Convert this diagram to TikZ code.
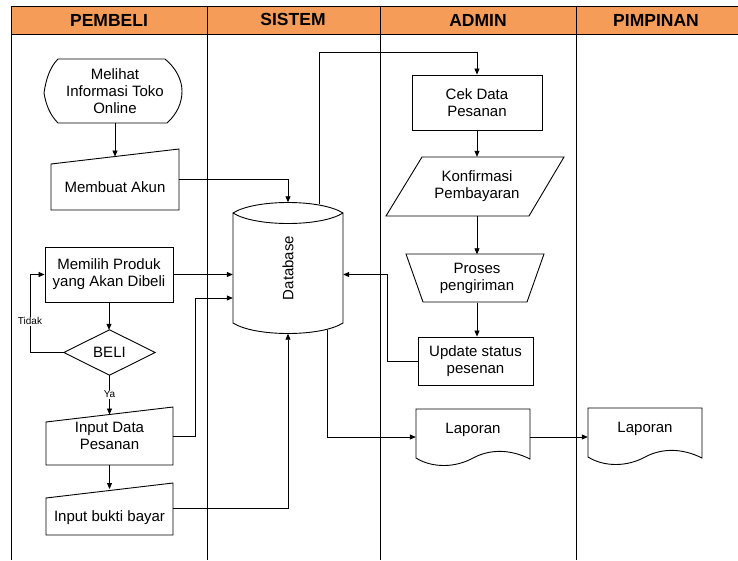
\documentclass[tikz,border=0pt]{standalone}
\usepackage{fontspec}
\setmainfont{Liberation Sans}
\usetikzlibrary{arrows.meta,calc}
\definecolor{hdr}{RGB}{245,157,88}
\begin{document}
\begin{tikzpicture}[x=1pt,y=-1pt,
  line/.style={draw=black,line width=0.8pt},
  arr/.style={line,-{Triangle[length=6pt,width=5pt]}},
  shp/.style={draw=black,line width=0.9pt},
  lane/.style={draw=black,line width=0.95pt},
  txt/.style={font=\fontsize{15}{17}\selectfont,align=center,inner sep=0pt},
  box/.style={txt,draw=black,line width=0.9pt},
  lbl/.style={font=\fontsize{10}{12}\selectfont,inner sep=1pt,fill=white},
  hd/.style={font=\fontsize{17.5}{20}\selectfont\bfseries,inner sep=0pt}]
\useasboundingbox (0,0) rectangle (738,560);
\fill[white] (0,0) rectangle (738,560);
% header and lanes
\fill[hdr] (11,6) rectangle (738,34);
\draw[lane] (11,6) -- (738,6);
\draw[lane] (11,34) -- (738,34);
\draw[lane] (11,6) -- (11,560);
\draw[lane] (207,6) -- (207,560);
\draw[lane] (380,6) -- (380,560);
\draw[lane] (576,6) -- (576,560);
\node[hd] (hpem) at (109,20) {PEMBELI};
\node[hd] (hsis) at (293,19) {SISTEM};
\node[hd] (hadm) at (478,20) {ADMIN};
\node[hd] (hpim) at (656,20) {PIMPINAN};

% ---- PEMBELI lane
\draw[shp] (58,59) -- (165,59) .. controls (176,68) and (182,80) .. (182,91)
  .. controls (182,103) and (177,114) .. (167,123) -- (58,123)
  .. controls (50,115) and (46,105) .. (44,93)
  .. controls (46,79) and (50,67) .. (58,59) -- cycle;
\node[txt,minimum width=124,minimum height=64] (melihat) at (115,91) {Melihat\\Informasi Toko\\Online};

\draw[shp] (51,164) -- (179,149) -- (179,210) -- (51,210) -- cycle;
\node[txt,minimum width=128,minimum height=46] (membuat) at (115,187) {Membuat Akun};
\coordinate (mbtop) at (115,156.5);

\node[box,minimum width=128,minimum height=55] (memilih) at (109,274.5) {Memilih Produk\\yang Akan Dibeli};

\node[txt,minimum width=91,minimum height=45] (beli) at (109.5,352.5) {BELI};
\draw[shp] (beli.north) -- (beli.east) -- (beli.south) -- (beli.west) -- cycle;
\coordinate (tk) at (30,352.5);

\draw[shp] (46,422) -- (173,407) -- (173,465) -- (46,465) -- cycle;
\node[txt,minimum width=127,minimum height=58] (inputdata) at (109.5,436) {Input Data\\Pesanan};
\coordinate (idtop) at (109.5,414.5);

\draw[shp] (46,498) -- (173,483) -- (173,535) -- (46,535) -- cycle;
\node[txt,minimum width=127,minimum height=34] (inputbukti) at (109.5,518) {Input bukti bayar};
\coordinate (ibtop) at (109.5,489);

% ---- SISTEM lane
\draw[shp] (233,213) .. controls (255,199) and (321,199) .. (343,213) -- (343,323)
  .. controls (321,337) and (255,337) .. (233,323) -- cycle;
\draw[shp] (233,213) .. controls (255,227) and (321,227) .. (343,213);
\node[txt,minimum width=110,minimum height=131] (db) at (288,268) {\rotatebox{90}{Database}};
\coordinate (dbo1) at (319,204);
\coordinate (dbo2) at (327,329.5);
\coordinate (j1) at (195,298);

% ---- ADMIN lane
\node[box,minimum width=130,minimum height=55] (cek) at (477,102.5) {Cek Data\\Pesanan};
\draw[shp] (422,157) -- (564,157) -- (529,216) -- (386,216) -- cycle;
\node[txt,minimum width=100,minimum height=59] (konf) at (477,186.5) {Konfirmasi\\Pembayaran};
\draw[shp] (406,254) -- (544,254) -- (527,302) -- (423,302) -- cycle;
\node[txt,minimum width=100,minimum height=48] (proses) at (477,278.5) {Proses\\pengiriman};
\node[box,minimum width=115,minimum height=48] (update) at (475.5,361) {Update status\\pesenan};

\draw[shp] (416,409) -- (530,409) -- (530,459) .. controls (510,449) and (490,449) .. (473,458)
  .. controls (455,468) and (432,468) .. (416,458) -- cycle;
\node[txt,minimum width=114,minimum height=42] (lap1) at (473,430) {Laporan};

% ---- PIMPINAN lane
\draw[shp] (588,408) -- (702,408) -- (702,458) .. controls (682,448) and (662,448) .. (645,457)
  .. controls (627,467) and (604,467) .. (588,457) -- cycle;
\node[txt,minimum width=114,minimum height=42] (lap2) at (645,429) {Laporan};

% ---- connectors
\draw[arr] (melihat.south) -- (melihat.south |- mbtop);
\draw[arr] ([yshift=7.5pt]membuat.east) -| (db.north);
\draw[arr] (memilih.east) -- (memilih.east -| db.west);
\draw[arr] (memilih.south) -- (memilih.south |- beli.north);
\draw[arr] (beli.west) -- (tk) -- node[lbl,pos=0.4] {Tidak} (tk |- memilih.west) -- (memilih.west);
\draw[arr] (beli.south) -- node[lbl,pos=0.48] {Ya} (beli.south |- idtop);
\draw[arr] (inputdata.east) -| (j1) -- (j1 -| db.west);
\draw[arr] (inputdata.south) -- (inputdata.south |- ibtop);
\draw[arr] ([yshift=10pt]inputbukti.east) -| (db.south);
\draw[arr] (dbo1) |- ($(cek.north)+(0,-22)$) -- (cek.north);
\draw[arr] (cek.south) -- (cek.south |- konf.north);
\draw[arr] (konf.south) -- (konf.south |- proses.north);
\draw[arr] (proses.south) -- (proses.south |- update.north);
\draw[arr] (update.west) -- ++(-30,0) |- (memilih.east -| db.east);
\draw[arr] (dbo2) |- ([yshift=-7pt]lap1.west);
\draw[arr] ([yshift=-7pt]lap1.east) -- ([yshift=-7pt]lap1.east -| lap2.west);
\end{tikzpicture}
\end{document}
